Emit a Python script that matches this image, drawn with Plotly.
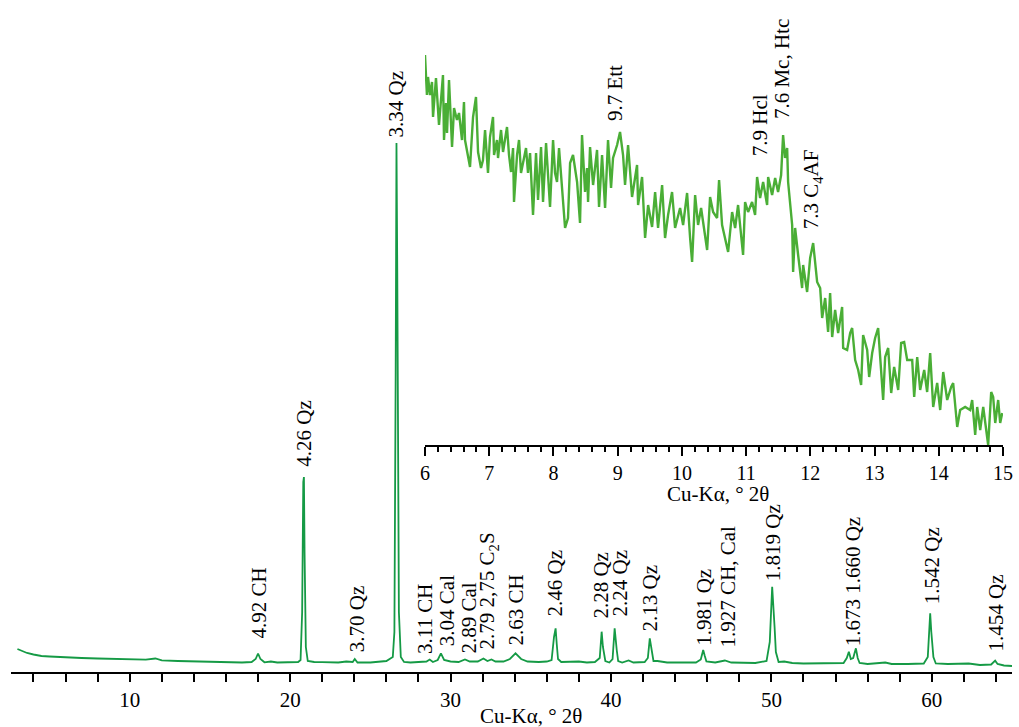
import plotly.graph_objects as go

# ---------------- main pattern (Cu-Kα, 2θ) ----------------
main_2theta = [3.0, 3.3, 3.6, 4.0, 4.5, 5.0, 6.0, 7.0, 8.0, 9.0, 10.0, 11.0, 11.6, 12.0, 13.0, 14.0, 15.0, 16.0, 17.0,
               17.6, 17.85, 18.0, 18.15, 18.4, 18.8, 19.2, 20.0, 20.5, 20.65, 20.75, 20.82, 20.86, 20.9, 20.93, 20.98,
               21.1, 21.5, 22.0, 23.0, 23.5, 23.9, 24.03, 24.2, 25.0, 25.5, 26.0, 26.4, 26.5, 26.58, 26.63, 26.68,
               26.72, 26.78, 26.9, 27.1, 27.5, 28.0, 28.5, 28.7, 28.9, 29.2, 29.4, 29.6, 30.0, 30.5, 30.9, 31.2, 31.7,
               32.05, 32.3, 32.55, 32.8, 33.3, 33.7, 34.05, 34.4, 34.8, 35.5, 36.0, 36.3, 36.45, 36.55, 36.62, 36.7,
               36.9, 37.5, 38.0, 38.5, 39.0, 39.3, 39.42, 39.5, 39.55, 39.65, 39.9, 40.1, 40.23, 40.3, 40.36, 40.45,
               40.7, 41.1, 41.4, 42.1, 42.3, 42.42, 42.5, 42.56, 42.65, 42.9, 43.5, 44.5, 45.3, 45.6, 45.75, 45.85,
               45.95, 46.5, 46.9, 47.1, 47.5, 48.5, 49.0, 49.7, 49.9, 50.05, 50.12, 50.2, 50.28, 50.45, 50.8, 51.3,
               52.0, 53.0, 54.0, 54.5, 54.7, 54.83, 54.95, 55.1, 55.27, 55.38, 55.5, 56.0, 57.1, 57.5, 58.5, 59.5,
               59.75, 59.9, 59.97, 60.02, 60.1, 60.25, 61.0, 62.3, 63.0, 63.7, 63.95, 64.1, 64.5, 65.0]
main_intensity = [23, 21, 19, 17.5, 16, 15.5, 14.5, 14, 13.5, 13, 12.7, 12.3, 13.5, 11.7, 11, 10.5, 10, 9.7, 9.5,
                  10, 13, 18.5, 13, 9.7, 10.5, 9.5, 9.7, 10, 12, 60, 190, 195, 120, 70, 25,
                  11, 10, 9.8, 9.5, 10.5, 10, 13, 9.5, 9.5, 10, 11, 15, 40, 300, 529, 400,
                  180, 60, 15, 10, 9.5, 10, 10.5, 12.5, 10, 12, 18.7, 12, 10.5, 10, 12.5, 10.5, 10.5,
                  13.5, 11, 12.5, 10.5, 10.5, 13, 18.7, 13, 10.5, 10, 10.5, 12, 35, 43.7, 28, 13,
                  10, 10, 10.5, 9.5, 10, 14, 40.3, 25, 20, 11, 9.5, 13, 43.7, 28, 22, 11,
                  9.5, 11.5, 9.5, 10, 14, 33.7, 24, 18, 11, 11, 9.5, 9.5, 9.5, 12.5, 22, 16,
                  10.5, 9.5, 10.5, 11.5, 9.5, 9, 9, 11, 30, 85.3, 60, 45, 20, 10, 10.5, 9,
                  8.5, 8.5, 8.5, 9, 14, 20.3, 13, 14, 23.7, 14, 9, 8, 9.5, 8, 8, 8.5,
                  15, 58.7, 40, 32, 15, 8.5, 8, 8.5, 7, 7.5, 11.3, 8, 6.5, 6]
assert len(main_2theta) == len(main_intensity)

# ---------------- inset pattern (6–15° 2θ) ----------------
inset_2theta = [6.000, 6.030, 6.047, 6.078, 6.109, 6.125, 6.171, 6.218, 6.280, 6.296, 6.327, 6.343, 6.374, 6.421,
                6.452, 6.498, 6.530, 6.576, 6.607, 6.623, 6.701, 6.748, 6.794, 6.826, 6.872, 6.903, 6.935, 6.981,
                7.012, 7.059, 7.075, 7.121, 7.137, 7.184, 7.215, 7.277, 7.308, 7.340, 7.371, 7.386, 7.433, 7.464,
                7.495, 7.573, 7.604, 7.636, 7.682, 7.729, 7.760, 7.807, 7.838, 7.885, 7.947, 7.994, 8.025, 8.056,
                8.087, 8.134, 8.181, 8.227, 8.259, 8.305, 8.368, 8.414, 8.445, 8.492, 8.523, 8.539, 8.570, 8.617,
                8.679, 8.710, 8.757, 8.804, 8.850, 8.897, 8.928, 8.991, 9.037, 9.084, 9.115, 9.162, 9.224, 9.302,
                9.318, 9.380, 9.427, 9.474, 9.536, 9.583, 9.629, 9.692, 9.738, 9.785, 9.847, 9.894, 9.972, 10.019,
                10.081, 10.128, 10.159, 10.206, 10.252, 10.299, 10.330, 10.393, 10.439, 10.486, 10.548, 10.579,
                10.626, 10.673, 10.720, 10.782, 10.829, 10.875, 10.953, 10.984, 11.031, 11.093, 11.140, 11.171,
                11.218, 11.265, 11.327, 11.343, 11.405, 11.452, 11.498, 11.545, 11.576, 11.607, 11.639, 11.654,
                11.717, 11.732, 11.763, 11.810, 11.872, 11.888, 11.950, 11.997, 12.044, 12.106, 12.153, 12.184,
                12.231, 12.277, 12.308, 12.340, 12.386, 12.433, 12.495, 12.511, 12.573, 12.620, 12.651, 12.698,
                12.745, 12.791, 12.822, 12.885, 12.916, 12.963, 13.009, 13.056, 13.087, 13.134, 13.165, 13.212,
                13.259, 13.305, 13.368, 13.414, 13.461, 13.508, 13.586, 13.617, 13.664, 13.710, 13.773, 13.819,
                13.866, 13.913, 13.975, 14.022, 14.069, 14.131, 14.193, 14.224, 14.287, 14.333, 14.411, 14.489,
                14.520, 14.567, 14.598, 14.645, 14.692, 14.723, 14.769, 14.816, 14.847, 14.879, 14.925, 14.956,
                14.988]
inset_intensity = [390, 350, 368, 350, 363, 328, 367, 320, 370, 305, 342, 312, 365, 298,
                   337, 325, 332, 305, 343, 305, 278, 328, 348, 293, 277, 285, 315, 272,
                   308, 328, 290, 305, 287, 315, 293, 318, 290, 273, 297, 243, 290, 305,
                   272, 297, 272, 292, 230, 292, 245, 298, 243, 302, 238, 305, 272, 263,
                   297, 260, 217, 227, 282, 290, 263, 222, 310, 253, 277, 243, 298, 260,
                   295, 238, 290, 237, 305, 257, 287, 300, 313, 290, 260, 300, 248, 280,
                   240, 268, 207, 240, 218, 253, 217, 260, 207, 230, 253, 217, 237, 220,
                   252, 207, 183, 250, 220, 237, 222, 195, 248, 233, 227, 265,
                   220, 205, 193, 233, 217, 240, 190, 243, 233, 243, 230, 268,
                   247, 263, 240, 268, 250, 267, 253, 270, 310, 287, 297, 263,
                   220, 173, 217, 190, 157, 180, 153, 187, 202, 163, 157, 127,
                   147, 113, 152, 108, 135, 112, 138, 97, 95, 112, 117, 85,
                   75, 60, 110, 95, 68, 92, 107, 117, 88, 45, 88, 97,
                   52, 78, 55, 102, 103, 85, 85, 48, 88, 55, 75, 53,
                   92, 38, 62, 35, 73, 45, 58, 62, 18, 35, 38, 35,
                   45, 10, 38, 15, 38, 22, 0, 53, 48, 22, 45, 22,
                   32]
assert len(inset_2theta) == len(inset_intensity)

# ---------------- peak labels ----------------
main_labels = ["4.92 CH", "4.26 Qz", "3.70 Qz", "3.34 Qz", "3.11 CH", "3.04 Cal", "2.89 Cal",
               "2.79 2,75 C<sub>2</sub>S", "2.63 CH", "2.46 Qz", "2.28 Qz", "2.24 Qz", "2.13 Qz",
               "1.981 Qz", "1.927 CH, Cal", "1.819 Qz", "1.673 1.660 Qz", "1.542 Qz", "1.454 Qz"]
main_label_x = [18.0, 20.82, 24.15, 26.66, 28.41, 29.76, 31.09, 32.33, 34.02, 36.45, 39.32, 40.56, 42.43,
                45.76, 47.32, 50.08, 55.11, 59.99, 63.94]
main_label_y = [32, 204, 19, 534, 17, 25, 17, 22, 25, 54, 52, 55, 40, 25, 24, 90, 25, 67, 19]

inset_labels = ["9.7 Ett", "7.9 Hcl", "7.6 Mc, Htc", "7.3 C<sub>4</sub>AF"]
inset_label_x = [8.96, 11.22, 11.56, 12.03]
inset_label_y = [323, 288, 325, 215]

AXIS_TITLE = "Cu-Kα, ° 2θ"

FONT = "Liberation Serif, Times New Roman, serif"
W, H = 1019, 727


def fx(px):
    return px / W


def fy(py):
    return 1 - py / H


fig = go.Figure()
fig.add_trace(go.Scatter(x=main_2theta, y=main_intensity, mode="lines",
                         line=dict(color="#159a45", width=1.8), xaxis="x", yaxis="y",
                         showlegend=False, hoverinfo="skip"))
fig.add_trace(go.Scatter(x=inset_2theta, y=inset_intensity, mode="lines",
                         line=dict(color="#4aae36", width=2.4), xaxis="x2", yaxis="y2",
                         showlegend=False, hoverinfo="skip"))

annotations = []
for t, x, y in zip(main_labels, main_label_x, main_label_y):
    annotations.append(dict(text=t, x=x, y=y, xref="x", yref="y", textangle=-90,
                            xanchor="center", yanchor="bottom", showarrow=False,
                            font=dict(family=FONT, size=21, color="black"), borderpad=0))
for t, x, y in zip(inset_labels, inset_label_x, inset_label_y):
    annotations.append(dict(text=t, x=x, y=y, xref="x2", yref="y2", textangle=-90,
                            xanchor="center", yanchor="bottom", showarrow=False,
                            font=dict(family=FONT, size=21, color="black"), borderpad=0))
annotations.append(dict(text=AXIS_TITLE, x=fx(531), y=fy(716), xref="paper", yref="paper",
                        xanchor="center", yanchor="middle", showarrow=False,
                        font=dict(family=FONT, size=21, color="black")))
annotations.append(dict(text=AXIS_TITLE, x=fx(718), y=fy(494), xref="paper", yref="paper",
                        xanchor="center", yanchor="middle", showarrow=False,
                        font=dict(family=FONT, size=21, color="black")))

fig.update_layout(
    width=W, height=H,
    margin=dict(l=0, r=0, t=0, b=0, pad=0),
    paper_bgcolor="white", plot_bgcolor="rgba(0,0,0,0)",
    font=dict(family=FONT, size=20, color="black"),
    xaxis=dict(domain=[fx(11), fx(1012)], range=[2.6, 65], anchor="y",
               showline=True, linecolor="black", linewidth=2.2, mirror=False,
               showgrid=False, zeroline=False,
               ticks="outside", ticklen=8, tickwidth=2, tickcolor="black",
               tickvals=[10, 20, 30, 40, 50, 60],
               minor=dict(dtick=2, tick0=0, ticks="outside", ticklen=8, tickwidth=2,
                          tickcolor="black", showgrid=False),
               tickfont=dict(family=FONT, size=21, color="black"),
               fixedrange=True, automargin=False),
    yaxis=dict(domain=[fy(672), fy(20)], range=[0, 652], visible=False,
               fixedrange=True, anchor="x"),
    xaxis2=dict(domain=[fx(425), fx(1003)], range=[6, 15], anchor="y2",
                showline=True, linecolor="black", linewidth=2, mirror=False,
                showgrid=False, zeroline=False,
                ticks="outside", ticklen=9, tickwidth=2, tickcolor="black",
                dtick=1, tick0=0,
                minor=dict(dtick=0.2, tick0=0, ticks="outside", ticklen=5, tickwidth=1.5,
                           tickcolor="black", showgrid=False),
                tickfont=dict(family=FONT, size=20, color="black"),
                fixedrange=True, automargin=False),
    yaxis2=dict(domain=[fy(445), fy(45)], range=[0, 400], visible=False,
                fixedrange=True, anchor="x2"),
    annotations=annotations,
)

fig.write_html("out.html", config={"displayModeBar": False},
               post_script="document.body.style.margin='0';document.body.style.overflow='hidden';")
